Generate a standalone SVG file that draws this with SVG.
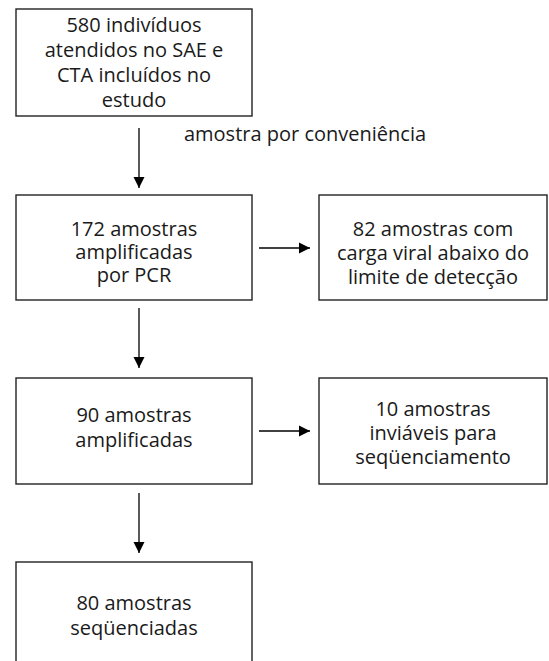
<svg xmlns="http://www.w3.org/2000/svg" width="549" height="661" viewBox="0 0 549 661">
<defs>
<marker id="ah" markerWidth="12" markerHeight="12" refX="11" refY="6" orient="auto" markerUnits="userSpaceOnUse">
<path d="M0,0.5 L11,6 L0,11.5 Z" fill="#000"/>
</marker>
</defs>
<style>
.box{fill:#fff;stroke:#222;stroke-width:1.4}
.t{font-family:"Open Sans",Lato,sans-serif;font-size:20px;font-weight:400;fill:#1a1a1a;text-anchor:middle}
.c{stroke:#000;stroke-width:1.3;fill:none}
</style>
<rect width="549" height="661" fill="#fff"/>
<g id="n1">
<rect class="box" x="16" y="9" width="236" height="107"/>
<text class="t" x="134" y="32">580 indivíduos</text>
<text class="t" x="134" y="57">atendidos no SAE e</text>
<text class="t" x="134" y="82">CTA incluídos no</text>
<text class="t" x="134" y="107">estudo</text>
</g>
<g id="n2">
<rect class="box" x="16" y="195" width="236" height="105"/>
<text class="t" x="134" y="236">172 amostras</text>
<text class="t" x="134" y="259">amplificadas</text>
<text class="t" x="134" y="282">por PCR</text>
</g>
<g id="n3">
<rect class="box" x="319" y="195" width="228" height="105"/>
<text class="t" x="433" y="236">82 amostras com</text>
<text class="t" x="433" y="260">carga viral abaixo do</text>
<text class="t" x="433" y="284">limite de detecção</text>
</g>
<g id="n4">
<rect class="box" x="16" y="378" width="236" height="106"/>
<text class="t" x="134" y="422">90 amostras</text>
<text class="t" x="134" y="447">amplificadas</text>
</g>
<g id="n5">
<rect class="box" x="319" y="378" width="228" height="106"/>
<text class="t" x="433" y="416">10 amostras</text>
<text class="t" x="433" y="440">inviáveis para</text>
<text class="t" x="433" y="464">seqüenciamento</text>
</g>
<g id="n6">
<rect class="box" x="16" y="562" width="236" height="130"/>
<text class="t" x="134" y="610">80 amostras</text>
<text class="t" x="134" y="635">seqüenciadas</text>
</g>
<g id="connectors">
<line class="c" x1="139" y1="128" x2="139" y2="188" marker-end="url(#ah)"/>
<text class="t" x="305" y="141">amostra por conveniência</text>
<line class="c" x1="259" y1="248" x2="310" y2="248" marker-end="url(#ah)"/>
<line class="c" x1="139" y1="308" x2="139" y2="368" marker-end="url(#ah)"/>
<line class="c" x1="259" y1="431" x2="310" y2="431" marker-end="url(#ah)"/>
<line class="c" x1="139" y1="493" x2="139" y2="553" marker-end="url(#ah)"/>
</g>
</svg>
